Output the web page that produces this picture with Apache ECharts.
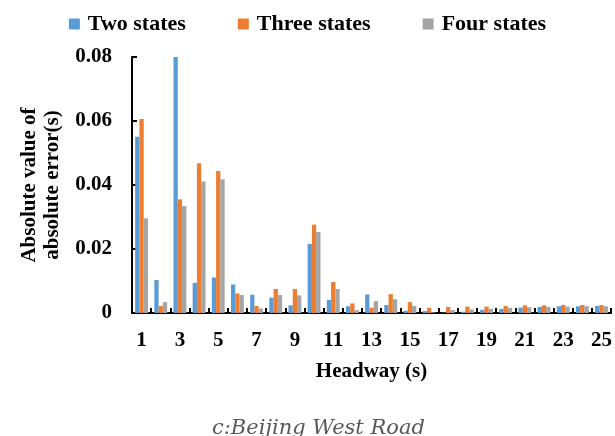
<!DOCTYPE html>
<html>
<head>
<meta charset="utf-8">
<script src="https://cdn.jsdelivr.net/npm/echarts@6/dist/echarts.min.js"></script>
<style>
  html, body { margin: 0; padding: 0; background: #ffffff; }
  #chart { width: 615px; height: 436px; }
</style>
</head>
<body>
<div id="chart"></div>
<script>
// Headway categories (s)
const headways = ['1','2','3','4','5','6','7','8','9','10','11','12','13',
                  '14','15','16','17','18','19','20','21','22','23','24','25'];

// Absolute value of absolute error (s) per model
const twoStates = [0.0551, 0.0103, 0.0800, 0.0094, 0.0111, 0.0089, 0.0057, 0.0048, 0.0024, 0.0216,
                   0.0041, 0.0021, 0.0058, 0.0025, 0.0007, 0.0006, 0.0001, 0.0004, 0.0010, 0.0013,
                   0.0017, 0.0019, 0.0021, 0.0021, 0.0022];
const threeStates = [0.0606, 0.0022, 0.0355, 0.0468, 0.0444, 0.0061, 0.0022, 0.0075, 0.0075, 0.0276,
                     0.0097, 0.0030, 0.0016, 0.0059, 0.0034, 0.0016, 0.0019, 0.0020, 0.0020, 0.0022,
                     0.0024, 0.0024, 0.0025, 0.0025, 0.0025];
const fourStates = [0.0296, 0.0034, 0.0334, 0.0411, 0.0418, 0.0056, 0.0014, 0.0056, 0.0055, 0.0253,
                    0.0075, 0.0009, 0.0037, 0.0043, 0.0022, 0.0002, 0.0009, 0.0011, 0.0013, 0.0016,
                    0.0018, 0.0019, 0.0020, 0.0021, 0.0021];

const serif = '"Liberation Serif", "Times New Roman", serif';

const chart = echarts.init(document.getElementById('chart'), null, { renderer: 'canvas' });

function barSeries(name, data, color) {
  return {
    name: name,
    type: 'bar',
    data: data,
    barGap: '0%',
    barCategoryGap: '33%',
    itemStyle: { color: color },
    animation: false
  };
}

chart.setOption({
  animation: false,
  backgroundColor: '#ffffff',
  title: {
    text: 'c:Beijing West Road',
    left: 207,
    top: 413,
    textStyle: {
      fontFamily: '"DejaVu Serif", serif',
      fontStyle: 'italic',
      fontWeight: 'normal',
      fontSize: 21,
      color: '#595959'
    }
  },
  legend: {
    top: 8,
    left: 'center',
    itemWidth: 11,
    itemHeight: 11,
    itemGap: 52,
    icon: 'rect',
    textStyle: {
      fontFamily: serif,
      fontWeight: 'bold',
      fontSize: 22,
      color: '#000000',
      padding: [0, 0, 0, 3]
    },
    data: ['Two states', 'Three states', 'Four states']
  },
  grid: {
    left: 132,
    right: 3,
    top: 57,
    bottom: 123,
    containLabel: false
  },
  xAxis: {
    type: 'category',
    data: headways,
    name: 'Headway (s)',
    nameLocation: 'middle',
    nameGap: 48,
    nameTextStyle: {
      fontFamily: serif,
      fontWeight: 'bold',
      fontSize: 21,
      color: '#000000'
    },
    axisLine: { lineStyle: { color: '#000000', width: 2 } },
    axisTick: {
      show: true,
      inside: true,
      length: 5,
      interval: 0,
      alignWithLabel: false,
      lineStyle: { color: '#000000', width: 2 }
    },
    axisLabel: {
      interval: 1,
      margin: 17,
      fontFamily: serif,
      fontWeight: 'bold',
      fontSize: 21,
      color: '#000000'
    },
    splitLine: { show: false }
  },
  yAxis: {
    type: 'value',
    min: 0,
    max: 0.08,
    interval: 0.02,
    name: 'Absolute value of\nabsolute error(s)',
    nameLocation: 'middle',
    nameGap: 66,
    nameTextStyle: {
      fontFamily: serif,
      fontWeight: 'bold',
      fontSize: 21,
      lineHeight: 23,
      color: '#000000'
    },
    axisLine: { show: true, lineStyle: { color: '#000000', width: 2 } },
    axisTick: {
      show: true,
      inside: true,
      length: 5,
      lineStyle: { color: '#000000', width: 2 }
    },
    axisLabel: {
      margin: 20,
      fontFamily: serif,
      fontWeight: 'bold',
      fontSize: 21,
      color: '#000000',
      formatter: function (v) { return v === 0 ? '0' : v.toFixed(2); }
    },
    splitLine: { show: false }
  },
  series: [
    barSeries('Two states', twoStates, '#5B9BD5'),
    barSeries('Three states', threeStates, '#ED7D31'),
    barSeries('Four states', fourStates, '#A5A5A5')
  ]
});
</script>
</body>
</html>
